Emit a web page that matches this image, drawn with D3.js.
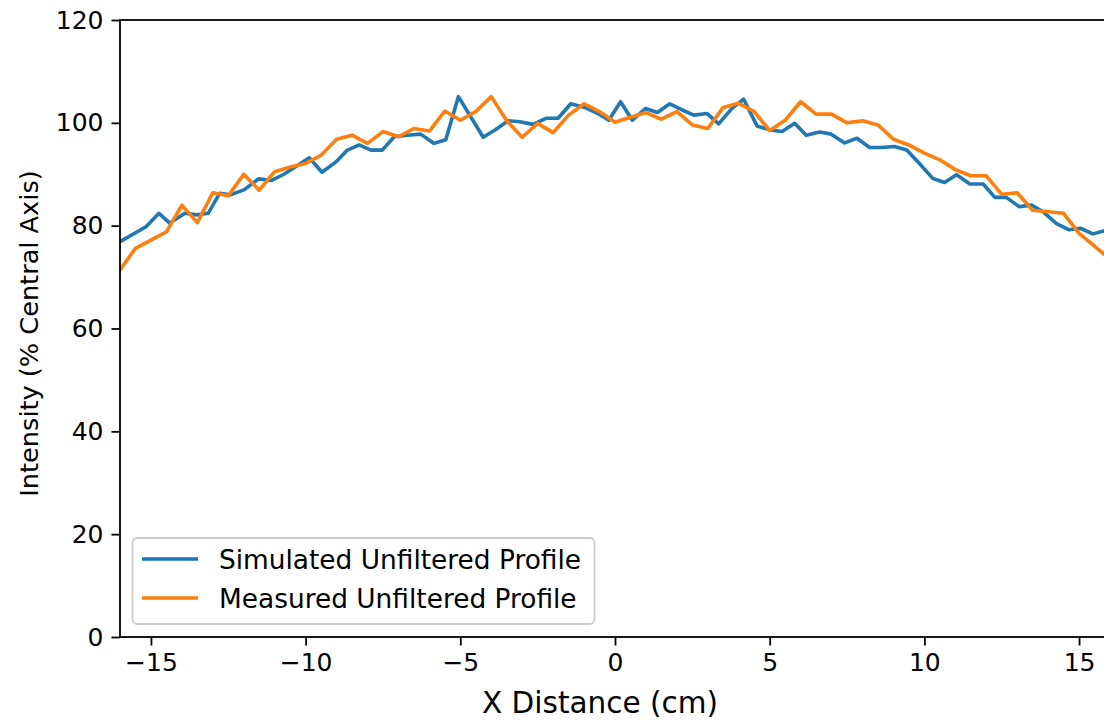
<!DOCTYPE html>
<html>
<head>
<meta charset="utf-8">
<script src="https://cdn.jsdelivr.net/npm/d3@7"></script>
<style>
  html, body { margin: 0; padding: 0; background: #fff; }
  svg { display: block; }
  text { font-family: "DejaVu Sans", sans-serif; fill: #000; }
</style>
</head>
<body>
<svg id="chart" width="1104" height="724"></svg>
<script>
// ---- data ----
const simX = [-16, -15.16, -14.74, -14.39, -13.9, -13.52, -13.15, -12.78, -12.43, -11.98, -11.52, -11.1, -10.7,
  -9.88, -9.47, -9.02, -8.65, -8.27, -7.89, -7.52, -7.14, -6.71, -6.28, -5.85, -5.47, -5.06, -4.26, -3.88,
  -3.45, -3.08, -2.65, -2.21, -1.84, -1.43, -0.98, -0.55, -0.2, 0.18, 0.56, 0.99, 1.37, 1.77, 2.17, 2.55,
  2.98, 3.35, 3.78, 4.16, 4.59, 5.02, 5.4, 5.81, 6.18, 6.61, 6.99, 7.42, 7.82, 8.23, 8.6, 9.03, 9.43, 9.84,
  10.27, 10.65, 11.04, 11.47, 11.9, 12.28, 12.65, 13.06, 13.46, 13.84, 14.27, 14.68, 15.04, 15.45, 15.8];
const simY = [76.9, 79.8, 82.4, 80.5, 82.4, 82.1, 82.4, 86.3, 86.0, 87.0, 89.1, 88.8, 90.0,
  93.2, 90.4, 92.4, 94.7, 95.7, 94.7, 94.7, 97.3, 97.6, 97.8, 96.0, 96.7, 105.1, 97.2, 98.6,
  100.4, 100.2, 99.7, 100.9, 100.9, 103.7, 103.0, 101.8, 100.5, 104.1, 100.5, 102.8, 102.0, 103.7, 102.5, 101.5,
  101.8, 99.8, 102.8, 104.6, 99.4, 98.6, 98.3, 99.9, 97.6, 98.2, 97.8, 96.1, 97.0, 95.2, 95.2, 95.4, 94.7, 92.1,
  89.2, 88.4, 89.9, 88.1, 88.1, 85.5, 85.5, 83.7, 84.0, 82.7, 80.4, 79.2, 79.5, 78.4, 79.0];

const measX = [-16, -15.5, -15, -14.5, -14, -13.5, -13, -12.5, -12, -11.5, -11, -10.5, -10, -9.5, -9, -8.5,
  -8, -7.5, -7, -6.5, -6, -5.5, -5, -4.5, -4, -3.5, -3, -2.5, -2, -1.5, -1, -0.5, 0, 0.5, 1, 1.5, 2, 2.5,
  3, 3.5, 4, 4.5, 5, 5.5, 6, 6.5, 7, 7.5, 8, 8.5, 9, 9.5, 10, 10.5, 11, 11.5, 12, 12.5, 13, 13.5, 14, 14.5,
  15, 15.5, 16];
const measY = [71.4, 75.6, 77.2, 78.8, 84.0, 80.6, 86.4, 85.8, 90.0, 86.9, 90.5, 91.4, 92.1, 93.7, 96.8, 97.6,
  96.0, 98.3, 97.3, 98.9, 98.4, 102.3, 100.5, 102.2, 105.1, 100.4, 97.2, 99.9, 98.1, 101.5, 103.7, 102.2, 100.1,
  101.1, 102.0, 100.7, 102.2, 99.6, 98.9, 103.0, 103.8, 102.2, 98.5, 100.5, 104.1, 101.7, 101.7, 100.0, 100.4,
  99.6, 96.8, 95.7, 94.1, 92.8, 90.9, 89.7, 89.7, 86.1, 86.4, 83.0, 82.7, 82.4, 78.5, 76.0, 73.5];

const seriesNames = ["Simulated Unfiltered Profile", "Measured Unfiltered Profile"];
const seriesColors = ["#1f77b4", "#ff7f0e"];
const xTicks = [-15, -10, -5, 0, 5, 10, 15];
const yTicks = [0, 20, 40, 60, 80, 100, 120];
const xLabel = "X Distance (cm)";
const yLabel = "Intensity (% Central Axis)";

// ---- layout ----
const svg = d3.select("#chart");
const L = 120, R = 1110, T = 20, B = 637;
const FS = 25;
const x = d3.scaleLinear().domain([-16, 16]).range([L, R]);
const y = d3.scaleLinear().domain([0, 120]).range([B, T]);

svg.append("defs").append("clipPath").attr("id", "clip")
  .append("rect").attr("x", L).attr("y", T).attr("width", R - L).attr("height", B - T);

// lines
const series = [
  simX.map((d, i) => [d, simY[i]]),
  measX.map((d, i) => [d, measY[i]])
];
const line = d3.line().x(d => x(d[0])).y(d => y(d[1]));
const gLines = svg.append("g").attr("clip-path", "url(#clip)");
series.forEach((s, i) => {
  gLines.append("path").datum(s)
    .attr("d", line)
    .attr("fill", "none")
    .attr("stroke", seriesColors[i])
    .attr("stroke-width", 3.6)
    .attr("stroke-linejoin", "round")
    .attr("stroke-linecap", "square");
});

// axes
const xAxis = svg.append("g").attr("transform", `translate(0,${B})`)
  .call(d3.axisBottom(x).tickValues(xTicks).tickSize(8.5).tickPadding(8).tickSizeOuter(0));
const yAxis = svg.append("g").attr("transform", `translate(${L},0)`)
  .call(d3.axisLeft(y).tickValues(yTicks).tickSize(8.5).tickPadding(8).tickSizeOuter(0));
[xAxis, yAxis].forEach(g => {
  g.select(".domain").remove();
  g.selectAll(".tick line").attr("stroke", "#000").attr("stroke-width", 1.8);
  g.selectAll(".tick text").attr("font-size", FS).attr("font-family", "DejaVu Sans").attr("fill", "#000");
});

// spines
const spines = svg.append("g").attr("stroke", "#000").attr("stroke-width", 1.8).attr("fill", "none");
spines.append("rect").attr("x", L).attr("y", T).attr("width", R - L).attr("height", B - T)
  .attr("stroke-linejoin", "miter");

// axis labels
svg.append("text").attr("x", 600).attr("y", 713)
  .attr("text-anchor", "middle").attr("font-size", 29.5).text(xLabel);
svg.append("text").attr("transform", `translate(38,333.5) rotate(-90)`)
  .attr("text-anchor", "middle").attr("font-size", 25.6).text(yLabel);

// legend
const lg = svg.append("g");
lg.append("rect").attr("x", 132.5).attr("y", 538).attr("width", 462).attr("height", 86)
  .attr("rx", 5).attr("fill", "#fff").attr("fill-opacity", 0.8)
  .attr("stroke", "#cccccc").attr("stroke-width", 1.8);
seriesNames.forEach((n, i) => {
  const yy = 559 + i * 39;
  lg.append("line").attr("x1", 142).attr("x2", 198).attr("y1", yy).attr("y2", yy)
    .attr("stroke", seriesColors[i]).attr("stroke-width", 3.6);
  lg.append("text").attr("x", 219).attr("y", yy).attr("dy", "0.36em")
    .attr("font-size", 26.4).text(n);
});
</script>
</body>
</html>
